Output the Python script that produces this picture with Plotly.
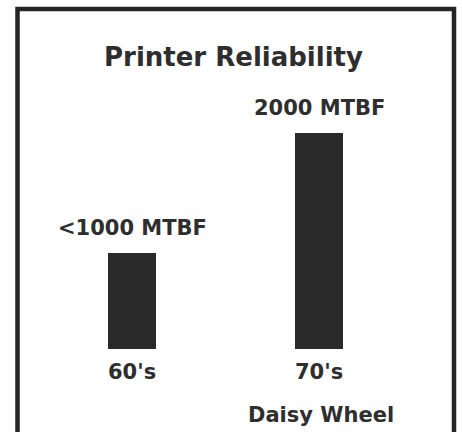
import plotly.graph_objects as go

# ---- data ----
categories = ["60's", "70's"]
mtbf_values = [890, 2000]
value_labels = ["<1000 MTBF", "2000 MTBF"]
sub_labels = ["", "Daisy Wheel"]
title_text = "Printer Reliability"

W, H = 462, 432
L, R, T, B = 20, 7, 25, 83
PW, PH = W - L - R, H - T - B

def px(x):
    return (x - L) / PW

def py(y):
    return (H - B - y) / PH

FONT = "DejaVu Sans"
TXT = "#2e2e2e"
BAR = "#2a2a2a"

fig = go.Figure()
fig.add_trace(go.Bar(
    x=categories, y=mtbf_values,
    marker=dict(color=BAR, line=dict(width=0)),
    width=0.257, hoverinfo="skip", showlegend=False,
))

ann = []
ann.append(dict(text="<b>%s</b>" % title_text, xref="paper", yref="paper",
                x=px(233), y=py(68), xanchor="center", yanchor="bottom",
                showarrow=False, font=dict(family=FONT, size=26, color=TXT), yshift=-6))
for c, v, lab, sub in zip(categories, mtbf_values, value_labels, sub_labels):
    ann.append(dict(text="<b>%s</b>" % lab, x=c, y=v, xref="x", yref="y",
                    xanchor="center", yanchor="bottom", yshift=11, showarrow=False,
                    font=dict(family=FONT, size=21, color=TXT)))
    ann.append(dict(text="<b>%s</b>" % c, x=c, y=0, xref="x", yref="y",
                    xanchor="center", yanchor="top", yshift=-9, showarrow=False,
                    font=dict(family=FONT, size=21, color=TXT)))
    if sub:
        ann.append(dict(text="<b>%s</b>" % sub, x=c, y=0, xref="x", yref="y",
                        xanchor="center", yanchor="top", yshift=-52, xshift=2,
                        showarrow=False, font=dict(family=FONT, size=21, color=TXT)))

fig.add_shape(type="path",
              path="M %f %f L %f %f L %f %f L %f %f" % (
                  px(17.5), py(440), px(17.5), py(9), px(454), py(9), px(454), py(440)),
              xref="paper", yref="paper", line=dict(color="#262626", width=4.5))

fig.update_layout(
    width=W, height=H,
    margin=dict(l=L, r=R, t=T, b=B, pad=0),
    paper_bgcolor="white", plot_bgcolor="white",
    xaxis=dict(visible=False, range=[-0.6, 1.725], type="category"),
    yaxis=dict(visible=False, range=[0, 3000]),
    annotations=ann,
    bargap=0,
    hovermode=False,
)
fig.write_html("out.html", config={"displayModeBar": False, "staticPlot": True},
               post_script="document.body.style.margin='0';document.body.style.overflow='hidden';")
